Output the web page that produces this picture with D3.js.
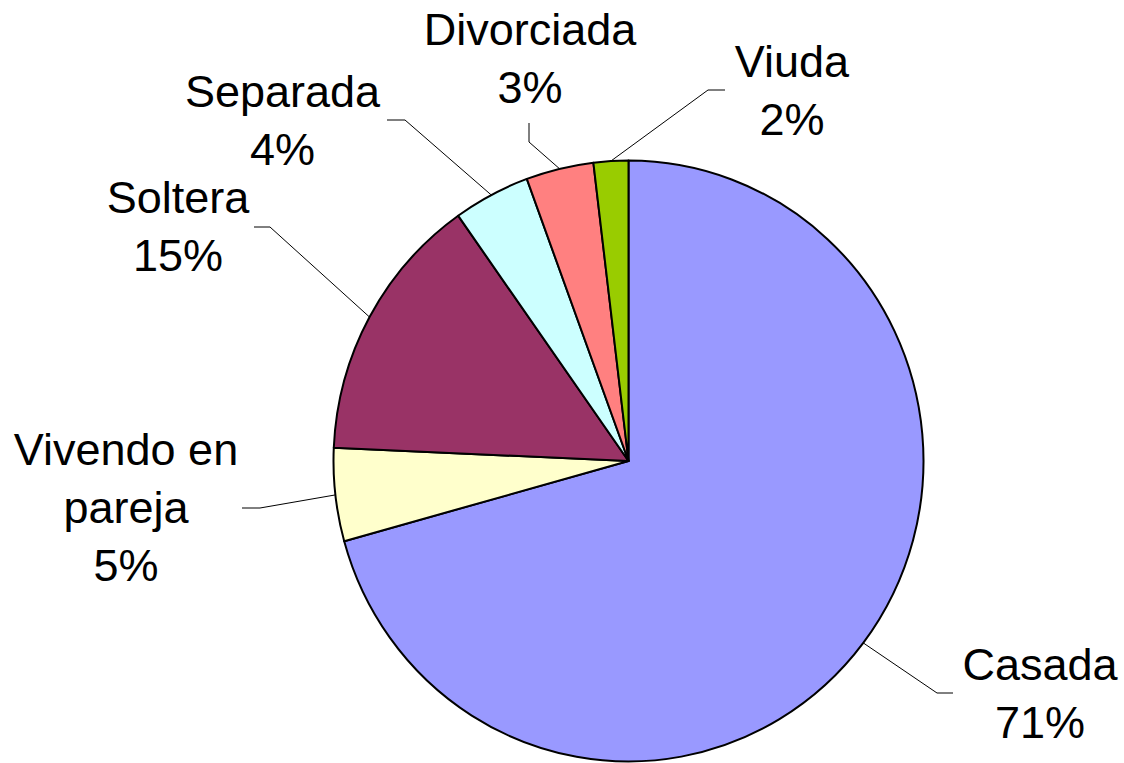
<!DOCTYPE html>
<html>
<head>
<meta charset="utf-8">
<script src="https://cdn.jsdelivr.net/npm/d3@7"></script>
<style>
  html, body { margin: 0; padding: 0; background: #fff; }
  svg { display: block; }
  text { font-family: "Liberation Sans", Arial, sans-serif; font-size: 45px; fill: #000; }
</style>
</head>
<body>
<svg id="chart" width="1124" height="763"></svg>
<script>
// ---- data ----
const categories = ["Casada", "Vivendo en pareja", "Soltera", "Separada", "Divorciada", "Viuda"];
const values = [70.7, 5.0, 14.5, 4.2, 3.7, 1.9];
const percentLabels = ["71%", "5%", "15%", "4%", "3%", "2%"];
const labelLines = [["Casada"], ["Vivendo en", "pareja"], ["Soltera"], ["Separada"], ["Divorciada"], ["Viuda"]];
const colors = ["#9999FF", "#FFFFCC", "#993366", "#CCFFFF", "#FF8080", "#99CC00"];

// ---- layout ----
const cx = 628.5, cy = 461, rx = 295, ry = 300.5;
const labelLayout = [
  { x: 1040, y: 680, elbow: [937, 693], end: [953, 693] },
  { x: 126, y: 465, elbow: [260, 508], end: [242, 508] },
  { x: 178, y: 213, elbow: [270, 227], end: [254, 227] },
  { x: 282.5, y: 107, elbow: [405, 120], end: [387, 120] },
  { x: 530, y: 45, elbow: [529, 142], end: [529, 123] },
  { x: 792, y: 77, elbow: [708, 90], end: [725, 90] }
];
const lineHeight = 58;

const svg = d3.select("#chart");
const pie = d3.pie().sort(null).value(d => d);
const arcs = pie(values);
const arc = d3.arc().innerRadius(0).outerRadius(ry);

const g = svg.append("g").attr("transform", `translate(${cx},${cy}) scale(${rx / ry},1)`);
g.selectAll("path").data(arcs).enter().append("path")
  .attr("d", arc)
  .attr("fill", (d, i) => colors[i])
  .attr("stroke", "#000")
  .attr("stroke-width", 2)
  .attr("stroke-linejoin", "round")
  .attr("vector-effect", "non-scaling-stroke");

// leader lines
arcs.forEach((d, i) => {
  const a = (d.startAngle + d.endAngle) / 2;
  const sx = cx + rx * Math.sin(a), sy = cy - ry * Math.cos(a);
  const L = labelLayout[i];
  svg.append("path")
    .attr("d", d3.line()([[sx, sy], L.elbow, L.end]))
    .attr("fill", "none")
    .attr("stroke", "#000")
    .attr("stroke-width", 1);
});

// labels
arcs.forEach((d, i) => {
  const L = labelLayout[i];
  const lines = labelLines[i].concat([percentLabels[i]]);
  const t = svg.append("text").attr("text-anchor", "middle");
  lines.forEach((s, k) => {
    t.append("tspan").attr("x", L.x).attr("y", L.y + k * lineHeight).text(s);
  });
});
</script>
</body>
</html>
